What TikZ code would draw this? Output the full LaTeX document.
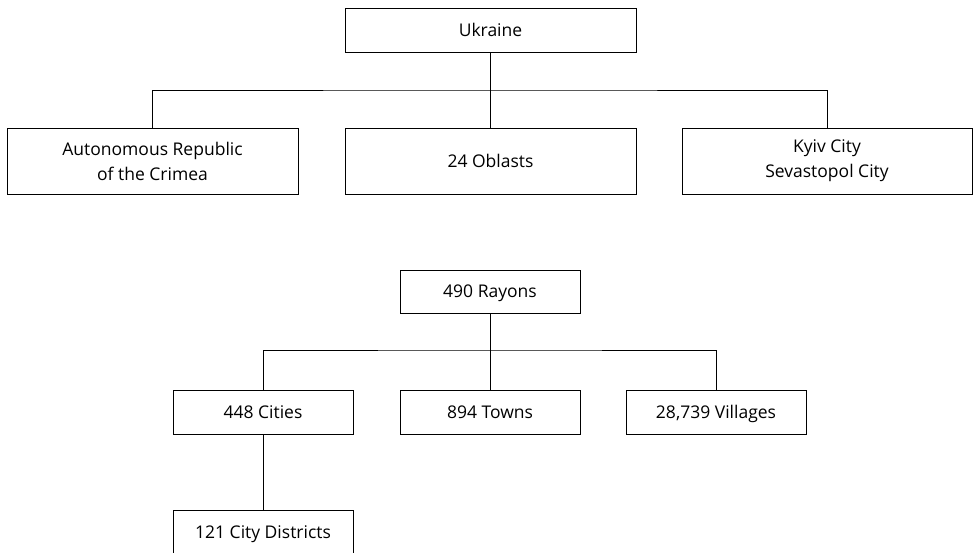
\documentclass[tikz,border=0pt]{standalone}
\usepackage{fontspec}
\setmainfont{Open Sans}
\usetikzlibrary{positioning}

\begin{document}
\begin{tikzpicture}[x=1pt,y=1pt,
		unit/.style={draw,line width=0.9pt,align=center,inner sep=0pt,
			font=\fontsize{17.5}{25}\selectfont},
		wide/.style={unit,minimum width=291pt},
		small/.style={unit,minimum width=180pt,minimum height=43pt,
			text height=12.5pt,text depth=0pt},
		link/.style={line width=0.9pt}]
	\useasboundingbox (0,0) rectangle (973,-553);
	% upper tier
	\node[wide,minimum height=44pt,text height=12.5pt,text depth=0pt] (ukraine) at (490.5,-30) {Ukraine};
	\node[wide,minimum height=66pt] (crimea) at (152.5,-161) {Autonomous Republic\\of the Crimea};
	\node[wide,minimum height=66pt] (oblasts) at (490.5,-161) {24 Oblasts};
	\node[wide,minimum width=290pt,minimum height=66pt] (cities) at (827,-161) {Kyiv City\\Sevastopol City};
	\coordinate (top bus) at (490.5,-90);
	\draw[link] (ukraine.south) -- (oblasts.north);
	\draw[link] (crimea.north) |- (top bus) -| (cities.north);
	% lower tier
	\node[small] (rayons) at (490,-291.5) {490 Rayons};
	\node[small,minimum height=44pt] (city) at (263,-412) {448 Cities};
	\node[small,minimum height=44pt] (towns) at (490,-412) {894 Towns};
	\node[small,minimum height=44pt] (villages) at (716,-412) {28,739 Villages};
	\node[small,minimum height=44pt] (districts) at (263,-532) {121 City Districts};
	\coordinate (low bus) at (490,-350);
	\draw[link] (rayons.south) -- (towns.north);
	\draw[link] (city.north) |- (low bus) -| (villages.north);
	\draw[link] (city.south) -- (districts.north);
\end{tikzpicture}
\end{document}
